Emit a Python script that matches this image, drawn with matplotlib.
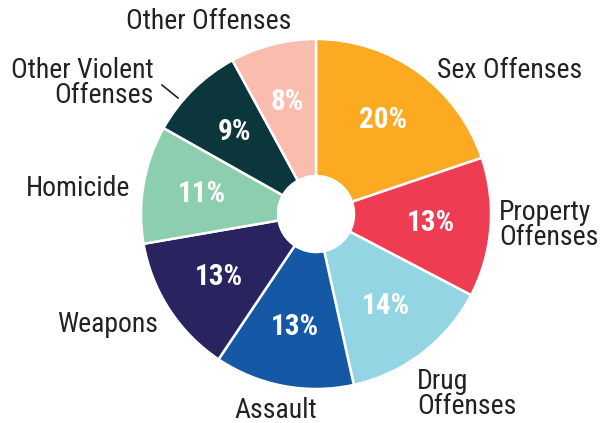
import matplotlib
matplotlib.use("Agg")
import matplotlib.pyplot as plt
from matplotlib import font_manager as fm

categories = ["Sex Offenses", "Property\nOffenses", "Drug\nOffenses", "Assault",
              "Weapons", "Homicide", "Other Violent\nOffenses", "Other Offenses"]
values = [20, 13, 14, 13, 13, 11, 9, 8]
colors = ["#FBAA21", "#EE3D52", "#93D5E2", "#1558A6",
          "#29245F", "#8DCEAE", "#0B363C", "#F9BCAD"]

names = {f.name for f in fm.fontManager.ttflist}
fam = "Roboto"
for cand in ["Roboto Condensed", "Liberation Sans Narrow", "Roboto"]:
    if cand in names:
        fam = cand
        break

W, H = 600, 423
cx, cy, R = 316, 214, 175

fig = plt.figure(figsize=(W / 100, H / 100), dpi=100)
ax = fig.add_axes([0, 0, 1, 1])

wedges, texts, autotexts = ax.pie(
    values, colors=colors, startangle=90, counterclock=False, radius=1,
    autopct=lambda p: f"{p:.0f}%", pctdistance=0.66,
    wedgeprops=dict(width=1 - 38 / R, edgecolor="white", linewidth=1.8),
    textprops=dict(color="white", fontsize=21, fontweight="bold", family=fam))
for t, v in zip(autotexts, values):
    t.set_text(f"{v}%")

ax.set_aspect("auto")
ax.set_xlim(-cx / R, (W - cx) / R)
ax.set_ylim((cy - H) / R, cy / R)
ax.axis("off")

def P(px, py):
    return (px - cx) / R, (cy - py) / R

# label placements (pixel anchors)
label_pos = [
    (437, 71, "left"),
    (499, 225, "left"),
    (417, 394, "left"),
    (276, 410, "center"),
    (158, 325, "right"),
    (130, 188, "right"),
    (154, 83, "right"),
    (209, 22, "center"),
]
for lab, (px, py, ha) in zip(categories, label_pos):
    x, y = P(px, py)
    ax.text(x, y, lab, ha=ha, va="center", fontsize=20, color="#222222",
            family=fam, linespacing=0.9)

x0, y0 = P(162, 85)
x1, y1 = P(178, 98)
ax.plot([x0, x1], [y0, y1], color="#222222", lw=1.2)

fig.savefig("out.png", dpi=100)
